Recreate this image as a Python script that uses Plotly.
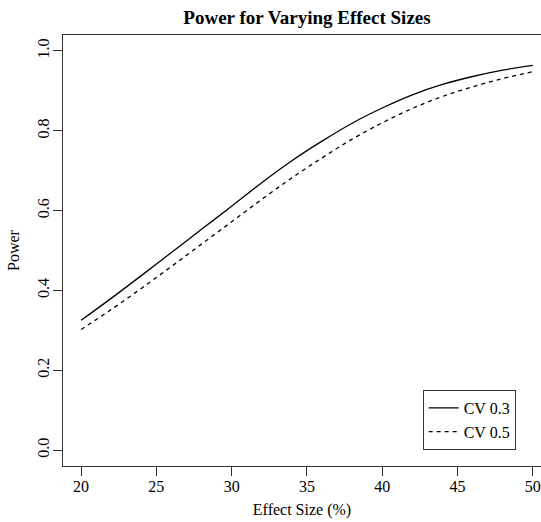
import plotly.graph_objects as go

effect_size = [20, 22, 24, 26, 28, 30, 32, 34, 36, 38, 40, 42, 44, 46, 48, 50]
power_cv03 = [0.325, 0.380, 0.437, 0.495, 0.553, 0.611, 0.670, 0.725, 0.774, 0.819, 0.857, 0.890, 0.916, 0.936, 0.952, 0.964]
power_cv05 = [0.302, 0.352, 0.405, 0.460, 0.516, 0.572, 0.628, 0.682, 0.732, 0.779, 0.820, 0.856, 0.886, 0.910, 0.931, 0.948]
series_names = ["CV 0.3", "CV 0.5"]
x_ticks = [20, 25, 30, 35, 40, 45, 50]
y_ticks = [0.0, 0.2, 0.4, 0.6, 0.8, 1.0]
y_tick_labels = ["0.0", "0.2", "0.4", "0.6", "0.8", "1.0"]

FONT = "Liberation Serif"
AX = "#333333"
W, H = 541, 522

fig = go.Figure()
fig.add_trace(go.Scatter(x=effect_size, y=power_cv03, mode="lines", name=series_names[0],
                         line=dict(color="black", width=1.3, shape="spline")))
fig.add_trace(go.Scatter(x=effect_size, y=power_cv05, mode="lines", name=series_names[1],
                         line=dict(color="black", width=1.3, dash="4px,4px", shape="spline")))

fig.update_layout(
    width=W, height=H,
    margin=dict(l=63, r=0, t=35, b=56),
    paper_bgcolor="white", plot_bgcolor="white",
    font=dict(family=FONT, size=16, color="black"),
    title=dict(text="<b>Power for Varying Effect Sizes</b>", x=307/W, xanchor="center",
               y=1-17/H, yanchor="middle", font=dict(family=FONT, size=19, color="black")),
    showlegend=True,
    legend=dict(x=(422.7-63)/478, y=(466-390)/431, xanchor="left", yanchor="top",
                bordercolor=AX, borderwidth=1, bgcolor="white",
                font=dict(family=FONT, size=16, color="black"),
                itemwidth=30, tracegroupgap=0),
)
fig.update_xaxes(range=[18.8, 50.545], tickvals=x_ticks, ticks="outside", ticklen=9,
                 tickcolor=AX, showline=True, linecolor=AX, linewidth=1.3, mirror=True,
                 showgrid=False, zeroline=False, automargin=False, ticklabelstandoff=-3,
                 title=dict(text="Effect Size (%)", standoff=9, font=dict(size=16)))
fig.update_yaxes(range=[-0.04, 1.04], tickvals=y_ticks, ticktext=y_tick_labels, ticks="outside",
                 ticklen=9, tickcolor=AX, tickangle=-90, showline=True, linecolor=AX, linewidth=1.3,
                 showgrid=False, zeroline=False, automargin=False, ticklabelstandoff=-3,
                 title=dict(text="Power", standoff=11, font=dict(size=16)))

# remove the browser's default page margin so the figure fills the window exactly
fig.write_html("out.html", config={"displayModeBar": False},
               post_script="document.body.style.margin='0';document.body.style.overflow='hidden';")
